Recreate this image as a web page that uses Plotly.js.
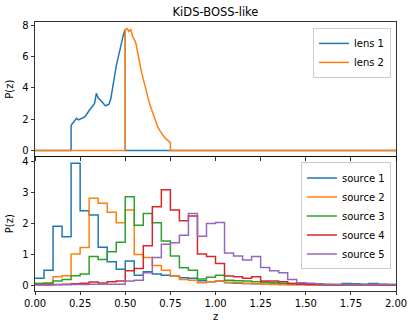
<!DOCTYPE html>
<html>
<head>
<meta charset="utf-8">
<script src="https://cdn.plot.ly/plotly-3.0.1.min.js"></script>
<style>
  html, body { margin: 0; padding: 0; background: #fff; }
  #chart { width: 415px; height: 330px; }
</style>
</head>
<body>
<div id="chart"></div>
<script>
  // lens n(z)
  const LENS1_Z = [0.20, 0.21, 0.22, 0.23, 0.24, 0.25, 0.26, 0.27, 0.28, 0.29, 0.30,
    0.31, 0.32, 0.33, 0.34, 0.35, 0.36, 0.37, 0.38, 0.39, 0.40,
    0.41, 0.42, 0.43, 0.44, 0.45, 0.46, 0.47, 0.48, 0.49, 0.50];
  const LENS1_P = [1.6, 1.75, 1.95, 2.05, 1.95, 2.0, 2.0, 2.1, 2.2, 2.4, 2.55,
    2.7, 2.85, 3.0, 3.65, 3.35, 3.25, 3.1, 2.95, 2.85, 2.9,
    2.95, 3.3, 3.9, 4.7, 5.4, 5.9, 6.6, 7.0, 7.4, 7.75];
  const LENS2_Z = [0.50, 0.51, 0.52, 0.53, 0.54, 0.55, 0.56, 0.57, 0.58, 0.59, 0.60,
    0.61, 0.62, 0.63, 0.64, 0.65, 0.66, 0.67, 0.68, 0.69, 0.70,
    0.71, 0.72, 0.73, 0.74, 0.75];
  const LENS2_P = [7.7, 7.8, 7.6, 7.75, 7.3, 7.1, 6.8, 6.3, 5.6, 5.0, 4.5,
    4.1, 3.7, 3.2, 2.8, 2.45, 2.1, 1.8, 1.5, 1.3, 1.1,
    0.95, 0.8, 0.7, 0.6, 0.5];

  // source histograms, 40 bins of width 0.05 on [0, 2]
  const BIN_WIDTH = 0.05;
  const SOURCE1 = [0.24, 0.5, 1.92, 1.58, 3.95, 2.42, 2.28, 1.24, 0.77, 0.53,
    0.8, 0.34, 0.45, 0.38, 0.34, 0.31, 0.26, 0.24, 0.16, 0.13,
    0.15, 0.1, 0.08, 0.07, 0.06, 0.05, 0.05, 0.04, 0.04, 0.04,
    0.03, 0.03, 0.03, 0.03, 0.07, 0.06, 0.05, 0.07, 0.05, 0.04];
  const SOURCE2 = [0.07, 0.1, 0.29, 0.32, 1.02, 1.23, 2.82, 2.66, 2.37, 2.03,
    2.44, 1.01, 0.91, 0.65, 0.5, 0.31, 0.2, 0.18, 0.1, 0.13,
    0.15, 0.11, 0.1, 0.07, 0.06, 0.05, 0.04, 0.04, 0.03, 0.03,
    0.03, 0.02, 0.02, 0.02, 0.02, 0.02, 0.02, 0.02, 0.02, 0.02];
  const SOURCE3 = [0.07, 0.07, 0.15, 0.2, 0.32, 0.38, 0.94, 0.85, 1.1, 1.4,
    2.87, 1.95, 2.33, 2.03, 1.44, 0.96, 0.58, 0.5, 0.22, 0.27,
    0.34, 0.18, 0.16, 0.15, 0.13, 0.11, 0.1, 0.08, 0.07, 0.06,
    0.05, 0.04, 0.04, 0.03, 0.03, 0.03, 0.03, 0.03, 0.03, 0.03];
  const SOURCE4 = [0.03, 0.03, 0.04, 0.05, 0.06, 0.08, 0.12, 0.09, 0.13, 0.15,
    0.48, 0.56, 1.29, 2.55, 3.1, 2.44, 2.1, 2.25, 1.02, 0.94,
    0.72, 0.31, 0.29, 0.24, 0.29, 0.15, 0.15, 0.13, 0.07, 0.05,
    0.04, 0.04, 0.03, 0.03, 0.03, 0.03, 0.03, 0.02, 0.02, 0.02];
  const SOURCE5 = [0.02, 0.02, 0.03, 0.03, 0.04, 0.04, 0.05, 0.05, 0.05, 0.05,
    0.15, 0.18, 0.42, 0.91, 1.34, 1.39, 1.63, 2.33, 1.6, 2.01,
    2.04, 1.06, 0.96, 0.83, 0.94, 0.59, 0.48, 0.42, 0.2, 0.1,
    0.08, 0.06, 0.05, 0.05, 0.04, 0.04, 0.04, 0.04, 0.04, 0.04];

  const SOURCE_NAMES = ['source 1', 'source 2', 'source 3', 'source 4', 'source 5'];
  const SOURCES = [SOURCE1, SOURCE2, SOURCE3, SOURCE4, SOURCE5];
  const COLORS = ['#1f77b4', '#ff7f0e', '#2ca02c', '#d62728', '#9467bd'];

  const edges = Array.from({ length: SOURCE1.length + 1 }, (_, i) => +(i * BIN_WIDTH).toFixed(2));

  // lens curves: zero outside their support, vertical drop at the edges
  function lensTrace(zs, ps, name, color) {
    const x = [0, zs[0]].concat(zs, [zs[zs.length - 1], 2.0]);
    const y = [0, 0].concat(ps, [0, 0]);
    return {
      type: 'scatter', mode: 'lines', x, y, name,
      xaxis: 'x2', yaxis: 'y2', legend: 'legend',
      line: { color, width: 1.5 },
    };
  }

  const data = [
    lensTrace(LENS1_Z, LENS1_P, 'lens 1', COLORS[0]),
    lensTrace(LENS2_Z, LENS2_P, 'lens 2', COLORS[1]),
  ];

  SOURCES.forEach((vals, i) => {
    data.push({
      type: 'scatter', mode: 'lines',
      x: edges,
      y: vals.concat([vals[vals.length - 1]]),
      name: SOURCE_NAMES[i],
      xaxis: 'x', yaxis: 'y', legend: 'legend2',
      line: { color: COLORS[i], width: 1.5, shape: 'hv' },
    });
  });

  const axisBase = {
    showgrid: false, zeroline: false,
    showline: true, linecolor: '#000', linewidth: 0.8, mirror: true,
    ticks: 'outside', ticklen: 3.5, tickwidth: 0.8, tickcolor: '#000',
    tickfont: { size: 10, color: '#000' },
  };

  const legendBase = {
    xref: 'paper', yref: 'paper', xanchor: 'right', yanchor: 'top',
    bgcolor: 'rgba(255,255,255,0.8)', bordercolor: '#cccccc', borderwidth: 1,
    font: { size: 10, color: '#000' }, tracegroupgap: 0,
  };

  const layout = {
    width: 415, height: 330,
    margin: { t: 22, r: 19, b: 39, l: 35 },
    paper_bgcolor: '#fff', plot_bgcolor: '#fff',
    font: { family: 'DejaVu Sans', color: '#000', size: 10 },
    title: {
      text: 'KiDS-BOSS-like', font: { size: 11.5 },
      xref: 'paper', x: 0.5, yref: 'container', y: 1 - 12 / 330, yanchor: 'middle',
    },
    showlegend: true,
    xaxis: {
      ...axisBase, anchor: 'y', range: [0, 2], dtick: 0.25, tickformat: '.2f',
      title: { text: 'z', font: { size: 10 }, standoff: 4 },
    },
    yaxis: {
      ...axisBase, domain: [0, 0.5], range: [-0.17, 4.17], dtick: 1,
      title: { text: 'P(z)', font: { size: 10 }, standoff: 6 },
    },
    xaxis2: {
      ...axisBase, anchor: 'y2', matches: 'x', range: [0, 2], dtick: 0.25, showticklabels: false,
    },
    yaxis2: {
      ...axisBase, domain: [0.5, 1], range: [-0.39, 8.21], dtick: 2,
      title: { text: 'P(z)', font: { size: 10 }, standoff: 6 },
    },
    legend: { ...legendBase, x: 0.986, y: 0.978 },
    legend2: { ...legendBase, x: 0.986, y: 0.478 },
  };

  Plotly.newPlot('chart', data, layout, { displayModeBar: false, staticPlot: true });
</script>
</body>
</html>
